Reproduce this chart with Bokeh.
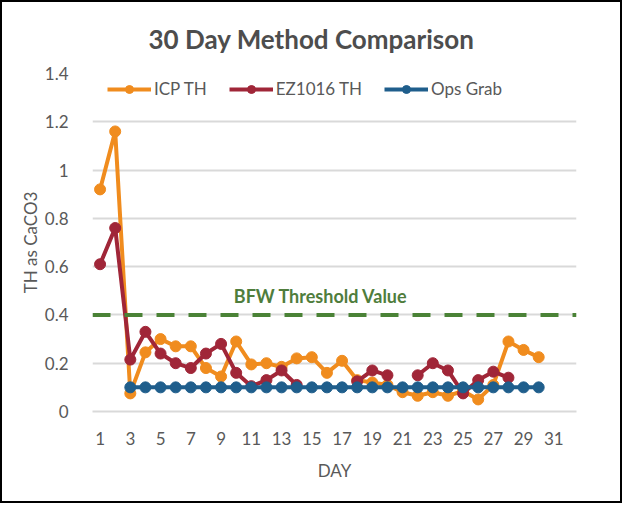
import math
from bokeh.plotting import figure
from bokeh.models import (Span, Label, Legend, LegendItem, FixedTicker,
                          Range1d, NumeralTickFormatter)
from bokeh.embed import file_html
from bokeh.resources import INLINE

nan = float("nan")

# ---- data ----
days = list(range(1, 31))
icp_th = [0.92, 1.16, 0.075, 0.245, 0.30, 0.27, 0.27, 0.18, 0.145, 0.29,
          0.195, 0.20, 0.185, 0.22, 0.225, 0.16, 0.21, 0.13, 0.12, 0.11,
          0.08, 0.065, 0.08, 0.065, 0.085, 0.05, 0.11, 0.29, 0.255, 0.225]
ez1016_th = [0.61, 0.76, 0.215, 0.33, 0.24, 0.20, 0.18, 0.24, 0.28, 0.16,
             0.105, 0.13, 0.17, 0.11, nan, nan, nan, 0.125, 0.17, 0.15,
             nan, 0.15, 0.20, 0.17, 0.075, 0.13, 0.165, 0.14, nan, nan]
ops_grab = [nan, nan] + [0.1] * 28
threshold_value = 0.4
x_ticks = list(range(1, 32, 2))
y_ticks = [0, 0.2, 0.4, 0.6, 0.8, 1.0, 1.2, 1.4]

series_names = ["ICP TH", "EZ1016 TH", "Ops Grab"]
series_values = [icp_th, ez1016_th, ops_grab]
series_colors = ["#F08C1E", "#A02638", "#1F5E8C"]

TEXT = "#595959"
FONT = "Lato"

p = figure(width=622, height=503, output_backend="svg", toolbar_location=None,
           x_range=Range1d(0.5, 32.5), y_range=Range1d(0, 1.4),
           min_border_left=90, min_border_right=48, min_border_top=71,
           min_border_bottom=94)
p.styles = {"border": "2px solid black"}
p.outline_line_color = None
p.background_fill_color = "white"
p.border_fill_color = "white"

p.title.text = "30 Day Method Comparison"
p.title.align = "left"
p.title.offset = 56
p.title.text_font = FONT
p.title.text_font_size = "26px"
p.title.text_font_style = "bold"
p.title.text_color = "#4D4D4D"
p.title.vertical_align = "top"
p.title.standoff = 34

p.xgrid.visible = False
p.ygrid.ticker = FixedTicker(ticks=y_ticks)
p.ygrid.grid_line_color = "#D9D9D9"
p.ygrid.grid_line_width = 2

p.xaxis.ticker = FixedTicker(ticks=x_ticks)
p.yaxis.ticker = FixedTicker(ticks=y_ticks)
p.yaxis.formatter = NumeralTickFormatter(format="0.[0]")
for ax in (p.xaxis, p.yaxis):
    ax.major_tick_line_color = None
    ax.minor_tick_line_color = None
    ax.major_label_text_font = FONT
    ax.major_label_text_font_size = "17px"
    ax.major_label_text_color = TEXT
    ax.axis_label_text_font = FONT
    ax.axis_label_text_font_size = "17px"
    ax.axis_label_text_font_style = "normal"
    ax.axis_label_text_color = TEXT
p.yaxis.axis_line_color = None
p.xaxis.axis_line_color = "#D9D9D9"
p.xaxis.axis_line_width = 2
p.yaxis.major_label_standoff = 18
p.xaxis.major_label_standoff = 14
p.yaxis.axis_label = "TH as CaCO3"
p.xaxis.axis_label = "DAY"
p.yaxis.axis_label_standoff = 1
p.xaxis.axis_label_standoff = 12

# threshold
p.add_layout(Span(location=threshold_value, dimension="width",
                  line_color="#4A8236", line_width=4, line_dash="18 14"))
p.add_layout(Label(x=15.6, y=0.48, text="BFW Threshold Value",
                   text_font=FONT, text_font_size="18px", text_font_style="bold",
                   text_color="#4F7D3C", text_align="center",
                   text_baseline="middle"))

items = []
for name, vals, col in zip(series_names, series_values, series_colors):
    l = p.line(days, vals, line_color=col, line_width=4)
    s = p.scatter(days, vals, size=11, fill_color=col, line_color=col)
    items.append(LegendItem(label=name, renderers=[l, s]))

legend = Legend(items=items, orientation="horizontal", location=(15, 312),
                glyph_width=44, glyph_height=20, label_standoff=3, spacing=22,
                padding=0, margin=0, border_line_color=None,
                background_fill_alpha=0, label_text_font=FONT,
                label_text_font_size="17px", label_text_color=TEXT)
p.add_layout(legend, "center")

open("out.html", "w").write(file_html(p, INLINE))
